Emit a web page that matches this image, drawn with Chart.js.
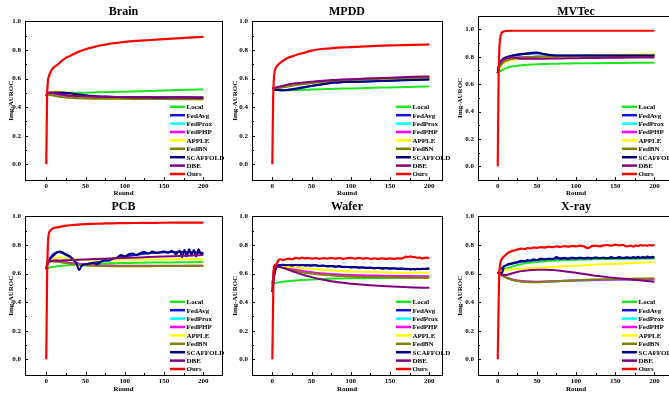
<!DOCTYPE html>
<html>
<head>
<meta charset="utf-8">
<style>
  body { margin: 0; background: #fff; }
  #wrap { position: relative; width: 669px; height: 393px; overflow: hidden; background: #fff; }
  .panel { position: absolute; overflow: hidden; }
</style>
</head>
<body>
<div id="wrap"></div>
<script src="https://cdn.jsdelivr.net/npm/chart.js"></script>
<script>
  const rounds = [0,1,2,3,5,8,10,15,20,25,30,40,50,60,70,80,90,100,120,140,160,180,200];
  const roundsDense = [0,2,5,8,10,13,17,20,25,30,35,38,42,45,50,55,60,65,70,75,80,85,90,95,100,105,110,115,120,125,130,135,140,145,150,155,160,165,170,173,176,179,182,185,188,191,194,197,200];

  const methods = ['Local','FedAvg','FedProx','FedPHP','APPLE','FedBN','SCAFFOLD','DBE','Ours'];
  const colors = ['#1ee61e','#1414dc','#00ffff','#ff00ff','#ffff00','#808000','#000080','#800080','#ff0000'];

  const xTicks = [0,50,100,150,200];
  const yTicks = [0,0.2,0.4,0.6,0.8,1.0];

  // Brain
  const brainLocal    = [0.48,0.485,0.49,0.49,0.492,0.495,0.496,0.497,0.498,0.499,0.5,0.5,0.501,0.503,0.505,0.506,0.507,0.508,0.511,0.515,0.518,0.522,0.525];
  const brainFedAvg   = [0.48,0.49,0.495,0.497,0.498,0.5,0.5,0.5,0.498,0.495,0.49,0.482,0.476,0.473,0.471,0.47,0.469,0.468,0.467,0.466,0.465,0.465,0.464];
  const brainFedProx  = [0.48,0.49,0.493,0.495,0.496,0.495,0.493,0.488,0.482,0.477,0.473,0.468,0.465,0.464,0.463,0.463,0.462,0.462,0.461,0.461,0.46,0.46,0.46];
  const brainFedPHP   = [0.48,0.49,0.494,0.496,0.497,0.496,0.494,0.489,0.483,0.478,0.474,0.469,0.466,0.465,0.464,0.463,0.463,0.463,0.462,0.462,0.462,0.461,0.461];
  const brainAPPLE    = [0.48,0.49,0.495,0.5,0.503,0.506,0.508,0.51,0.508,0.5,0.49,0.475,0.465,0.462,0.46,0.46,0.459,0.458,0.458,0.457,0.457,0.456,0.456];
  const brainFedBN    = [0.48,0.485,0.487,0.487,0.485,0.482,0.48,0.475,0.47,0.467,0.465,0.462,0.46,0.459,0.459,0.458,0.458,0.458,0.457,0.457,0.456,0.456,0.455];
  const brainSCAFFOLD = [0.48,0.49,0.495,0.498,0.5,0.502,0.502,0.503,0.502,0.5,0.497,0.49,0.483,0.478,0.475,0.473,0.471,0.47,0.469,0.468,0.467,0.467,0.466];
  const brainDBE      = [0.48,0.495,0.5,0.502,0.502,0.5,0.498,0.493,0.488,0.484,0.481,0.477,0.475,0.473,0.472,0.472,0.471,0.471,0.47,0.47,0.47,0.47,0.47];
  const brainOurs     = [0,0.45,0.58,0.61,0.64,0.67,0.68,0.7,0.725,0.745,0.757,0.785,0.805,0.82,0.833,0.843,0.85,0.857,0.865,0.872,0.879,0.886,0.892];

  // MPDD
  const mpddLocal    = [0.53,0.528,0.525,0.523,0.521,0.519,0.518,0.518,0.518,0.519,0.52,0.521,0.523,0.525,0.527,0.528,0.53,0.531,0.534,0.537,0.54,0.542,0.544];
  const mpddFedAvg   = [0.53,0.528,0.526,0.524,0.522,0.52,0.519,0.519,0.521,0.525,0.53,0.54,0.55,0.558,0.566,0.572,0.575,0.577,0.58,0.584,0.588,0.592,0.595];
  const mpddFedProx  = [0.53,0.53,0.531,0.532,0.533,0.535,0.537,0.543,0.55,0.556,0.56,0.567,0.572,0.577,0.581,0.585,0.588,0.59,0.594,0.598,0.601,0.603,0.605];
  const mpddFedPHP   = [0.53,0.53,0.532,0.533,0.535,0.538,0.54,0.546,0.552,0.558,0.562,0.569,0.575,0.58,0.584,0.588,0.591,0.594,0.598,0.602,0.605,0.608,0.61];
  const mpddAPPLE    = [0.53,0.53,0.531,0.532,0.533,0.535,0.537,0.542,0.548,0.553,0.557,0.564,0.57,0.576,0.581,0.585,0.589,0.592,0.597,0.6,0.603,0.605,0.607];
  const mpddFedBN    = [0.53,0.53,0.53,0.531,0.532,0.534,0.535,0.54,0.545,0.55,0.555,0.562,0.568,0.574,0.579,0.583,0.587,0.59,0.595,0.598,0.6,0.602,0.603];
  const mpddSCAFFOLD = [0.53,0.528,0.526,0.524,0.522,0.52,0.519,0.519,0.52,0.523,0.527,0.537,0.548,0.557,0.565,0.572,0.575,0.577,0.579,0.582,0.586,0.59,0.594];
  const mpddDBE      = [0.53,0.532,0.534,0.536,0.538,0.542,0.545,0.552,0.558,0.563,0.567,0.573,0.578,0.583,0.587,0.59,0.593,0.595,0.6,0.604,0.608,0.612,0.615];
  const mpddOurs     = [0,0.45,0.6,0.65,0.68,0.7,0.71,0.73,0.745,0.755,0.765,0.78,0.795,0.805,0.81,0.815,0.818,0.82,0.825,0.83,0.833,0.836,0.838];

  // MVTec
  const mvtecLocal    = [0.68,0.685,0.69,0.695,0.7,0.71,0.715,0.725,0.73,0.735,0.738,0.742,0.745,0.747,0.749,0.75,0.751,0.752,0.753,0.754,0.755,0.756,0.757];
  const mvtecFedAvg   = [0.68,0.72,0.74,0.755,0.77,0.785,0.79,0.8,0.808,0.813,0.817,0.822,0.826,0.818,0.81,0.808,0.808,0.808,0.809,0.81,0.81,0.81,0.81];
  const mvtecFedProx  = [0.68,0.71,0.73,0.745,0.76,0.775,0.78,0.79,0.795,0.797,0.798,0.8,0.802,0.803,0.804,0.805,0.806,0.807,0.808,0.809,0.81,0.81,0.811];
  const mvtecFedPHP   = [0.68,0.71,0.73,0.745,0.76,0.774,0.779,0.789,0.793,0.795,0.796,0.798,0.8,0.801,0.802,0.803,0.804,0.805,0.806,0.807,0.808,0.808,0.809];
  const mvtecAPPLE    = [0.68,0.7,0.715,0.725,0.74,0.755,0.762,0.772,0.778,0.782,0.785,0.79,0.794,0.797,0.8,0.802,0.804,0.806,0.809,0.812,0.815,0.817,0.819];
  const mvtecFedBN    = [0.68,0.705,0.72,0.733,0.748,0.763,0.77,0.78,0.786,0.79,0.793,0.797,0.8,0.802,0.803,0.804,0.805,0.806,0.807,0.808,0.809,0.81,0.81];
  const mvtecSCAFFOLD = [0.68,0.725,0.745,0.76,0.775,0.79,0.795,0.805,0.812,0.817,0.821,0.826,0.832,0.818,0.812,0.81,0.81,0.81,0.81,0.81,0.81,0.81,0.81];
  const mvtecDBE      = [0.68,0.72,0.74,0.755,0.768,0.782,0.788,0.795,0.797,0.79,0.786,0.785,0.785,0.786,0.787,0.788,0.789,0.79,0.791,0.792,0.793,0.794,0.795];
  const mvtecOurs     = [0,0.6,0.85,0.93,0.975,0.985,0.988,0.99,0.99,0.99,0.99,0.99,0.99,0.99,0.99,0.99,0.99,0.99,0.99,0.99,0.99,0.99,0.99];

  // PCB
  const pcbLocal    = [0.63,0.635,0.638,0.64,0.643,0.647,0.648,0.652,0.655,0.657,0.659,0.663,0.666,0.668,0.67,0.672,0.673,0.674,0.676,0.677,0.678,0.679,0.68];
  const pcbFedAvg   = [0.63,0.66,0.68,0.695,0.71,0.73,0.74,0.75,0.745,0.73,0.715,0.67,0.665,0.675,0.685,0.695,0.71,0.72,0.735,0.745,0.75,0.75,0.745];
  const pcbFedProx  = [0.63,0.66,0.68,0.69,0.695,0.695,0.693,0.688,0.683,0.678,0.673,0.666,0.66,0.657,0.655,0.654,0.653,0.653,0.652,0.652,0.652,0.653,0.653];
  const pcbFedPHP   = [0.63,0.66,0.68,0.69,0.696,0.697,0.695,0.69,0.685,0.68,0.675,0.668,0.662,0.659,0.657,0.656,0.655,0.655,0.654,0.654,0.654,0.655,0.655];
  const pcbAPPLE    = [0.64,0.66,0.675,0.685,0.695,0.703,0.706,0.712,0.712,0.708,0.703,0.698,0.695,0.695,0.695,0.695,0.696,0.696,0.697,0.698,0.699,0.7,0.7];
  const pcbFedBN    = [0.65,0.665,0.675,0.68,0.685,0.685,0.684,0.682,0.678,0.673,0.668,0.662,0.657,0.654,0.652,0.651,0.651,0.651,0.651,0.652,0.653,0.654,0.655];
  const pcbSCAFFOLD = [0.63,0.67,0.70,0.72,0.73,0.745,0.755,0.75,0.735,0.72,0.695,0.675,0.625,0.655,0.665,0.67,0.675,0.665,0.685,0.695,0.69,0.705,0.71,0.73,0.72,0.735,0.74,0.73,0.745,0.75,0.74,0.755,0.745,0.75,0.755,0.745,0.76,0.735,0.76,0.715,0.765,0.72,0.77,0.73,0.765,0.72,0.77,0.735,0.745];
  const pcbDBE      = [0.635,0.66,0.68,0.685,0.687,0.688,0.689,0.69,0.692,0.693,0.694,0.697,0.699,0.701,0.703,0.705,0.707,0.709,0.713,0.717,0.721,0.725,0.729];
  const pcbOurs     = [0,0.55,0.8,0.87,0.9,0.915,0.92,0.925,0.93,0.935,0.938,0.943,0.946,0.948,0.95,0.951,0.952,0.953,0.954,0.955,0.956,0.956,0.957];

  // Wafer
  const waferLocal    = [0.53,0.53,0.532,0.533,0.535,0.538,0.54,0.544,0.547,0.55,0.552,0.555,0.558,0.561,0.563,0.565,0.566,0.567,0.568,0.569,0.57,0.57,0.57];
  const waferFedAvg   = [0.47,0.55,0.62,0.64,0.65,0.658,0.66,0.66,0.66,0.66,0.66,0.66,0.658,0.655,0.652,0.65,0.648,0.645,0.641,0.638,0.635,0.632,0.633];
  const waferFedProx  = [0.5,0.56,0.62,0.635,0.645,0.65,0.648,0.642,0.636,0.63,0.625,0.615,0.607,0.601,0.597,0.593,0.59,0.588,0.585,0.583,0.582,0.581,0.58];
  const waferFedPHP   = [0.5,0.56,0.62,0.635,0.645,0.652,0.65,0.644,0.638,0.632,0.627,0.617,0.609,0.603,0.599,0.595,0.592,0.59,0.587,0.585,0.583,0.582,0.581];
  const waferAPPLE    = [0.5,0.56,0.61,0.625,0.635,0.645,0.648,0.648,0.646,0.644,0.642,0.637,0.633,0.628,0.624,0.62,0.617,0.615,0.612,0.609,0.606,0.605,0.605];
  const waferFedBN    = [0.5,0.56,0.62,0.635,0.645,0.648,0.645,0.638,0.63,0.623,0.617,0.607,0.6,0.594,0.589,0.585,0.582,0.579,0.576,0.574,0.572,0.571,0.57];
  const waferSCAFFOLD = [0.47,0.57,0.64,0.655,0.66,0.662,0.658,0.66,0.655,0.66,0.656,0.66,0.655,0.658,0.655,0.66,0.652,0.656,0.65,0.653,0.648,0.652,0.645,0.648,0.642,0.646,0.64,0.644,0.638,0.642,0.636,0.64,0.634,0.638,0.633,0.637,0.632,0.636,0.63,0.634,0.628,0.632,0.629,0.633,0.63,0.634,0.632,0.636,0.634];
  const waferDBE      = [0.53,0.57,0.62,0.635,0.645,0.647,0.645,0.637,0.628,0.618,0.608,0.59,0.575,0.562,0.551,0.542,0.535,0.529,0.52,0.513,0.507,0.503,0.5];
  const waferOurs     = [0,0.65,0.665,0.695,0.7,0.695,0.7,0.705,0.7,0.71,0.705,0.712,0.706,0.71,0.705,0.708,0.703,0.708,0.705,0.71,0.704,0.709,0.703,0.708,0.71,0.705,0.71,0.704,0.708,0.703,0.707,0.702,0.707,0.703,0.706,0.702,0.707,0.705,0.718,0.715,0.72,0.716,0.714,0.71,0.712,0.706,0.71,0.712,0.708];

  // X-ray
  const xrayLocal    = [0.61,0.612,0.615,0.618,0.622,0.628,0.632,0.642,0.652,0.66,0.666,0.675,0.681,0.686,0.69,0.693,0.695,0.697,0.7,0.702,0.703,0.704,0.705];
  const xrayFedAvg   = [0.61,0.6,0.6,0.61,0.635,0.65,0.655,0.665,0.672,0.678,0.683,0.69,0.695,0.7,0.703,0.705,0.706,0.707,0.708,0.709,0.71,0.71,0.71];
  const xrayFedProx  = [0.61,0.605,0.6,0.595,0.588,0.578,0.572,0.562,0.555,0.55,0.546,0.542,0.541,0.542,0.544,0.546,0.548,0.55,0.553,0.555,0.556,0.557,0.558];
  const xrayFedPHP   = [0.61,0.605,0.6,0.595,0.589,0.58,0.575,0.565,0.557,0.552,0.548,0.544,0.543,0.544,0.546,0.548,0.55,0.552,0.555,0.557,0.558,0.559,0.56];
  const xrayAPPLE    = [0.61,0.612,0.614,0.616,0.619,0.622,0.624,0.627,0.63,0.632,0.634,0.637,0.64,0.643,0.646,0.649,0.652,0.655,0.661,0.666,0.671,0.676,0.68];
  const xrayFedBN    = [0.61,0.605,0.6,0.595,0.588,0.578,0.573,0.562,0.553,0.547,0.543,0.54,0.54,0.542,0.545,0.548,0.551,0.554,0.558,0.561,0.563,0.565,0.567];
  const xraySCAFFOLD = [0.61,0.605,0.6,0.65,0.655,0.665,0.67,0.675,0.68,0.69,0.685,0.695,0.69,0.7,0.695,0.705,0.698,0.705,0.7,0.715,0.705,0.71,0.703,0.712,0.705,0.713,0.706,0.712,0.705,0.714,0.707,0.712,0.706,0.715,0.708,0.716,0.707,0.714,0.708,0.716,0.71,0.718,0.71,0.716,0.712,0.72,0.713,0.718,0.715];
  const xrayDBE      = [0.61,0.605,0.6,0.597,0.594,0.59,0.59,0.596,0.604,0.611,0.617,0.623,0.626,0.626,0.625,0.62,0.613,0.605,0.588,0.575,0.564,0.553,0.543];
  const xrayOurs     = [0,0.6,0.7,0.72,0.73,0.745,0.755,0.76,0.768,0.775,0.772,0.778,0.776,0.782,0.78,0.785,0.782,0.788,0.785,0.79,0.786,0.792,0.788,0.793,0.79,0.795,0.79,0.778,0.792,0.795,0.79,0.797,0.8,0.795,0.802,0.797,0.8,0.79,0.795,0.788,0.797,0.793,0.8,0.795,0.798,0.794,0.8,0.797,0.8];

  const panels = [
    { title: 'Brain', series: [brainLocal,brainFedAvg,brainFedProx,brainFedPHP,brainAPPLE,brainFedBN,brainSCAFFOLD,brainDBE,brainOurs], dense: [] },
    { title: 'MPDD',  series: [mpddLocal,mpddFedAvg,mpddFedProx,mpddFedPHP,mpddAPPLE,mpddFedBN,mpddSCAFFOLD,mpddDBE,mpddOurs], dense: [] },
    { title: 'MVTec', series: [mvtecLocal,mvtecFedAvg,mvtecFedProx,mvtecFedPHP,mvtecAPPLE,mvtecFedBN,mvtecSCAFFOLD,mvtecDBE,mvtecOurs], dense: [] },
    { title: 'PCB',   series: [pcbLocal,pcbFedAvg,pcbFedProx,pcbFedPHP,pcbAPPLE,pcbFedBN,pcbSCAFFOLD,pcbDBE,pcbOurs], dense: [6] },
    { title: 'Wafer', series: [waferLocal,waferFedAvg,waferFedProx,waferFedPHP,waferAPPLE,waferFedBN,waferSCAFFOLD,waferDBE,waferOurs], dense: [6,8] },
    { title: 'X-ray', series: [xrayLocal,xrayFedAvg,xrayFedProx,xrayFedPHP,xrayAPPLE,xrayFedBN,xraySCAFFOLD,xrayDBE,xrayOurs], dense: [6,8] }
  ];

  // page layout of the 2x3 grid
  const cols = [
    { left: 0,   boxW: 232, canvasW: 232, yW: 25, padR: 10, xMin: -27.1, xMax: 223.8, yTitlePad: 6.5, legDx: -52 },
    { left: 224, boxW: 230, canvasW: 230, yW: 28, padR: 12, xMin: -25.9, xMax: 216.2, yTitlePad: 6.8, legDx: -46 },
    { left: 444, boxW: 225, canvasW: 240, yW: 34, padR: 10, xMin: -25.2, xMax: 225,   yTitlePad: 11.8, legDx: -52 }
  ];
  const rows = [ { top: 0, h: 197 }, { top: 195, h: 198 } ];

  const serif = '"Liberation Serif", "Times New Roman", serif';
  const smallFont = { family: serif, size: 7, weight: 'bold' };

  const framePlugin = {
    id: 'frame',
    afterDraw(chart) {
      const { ctx, chartArea: a, scales: { x, y } } = chart;
      ctx.save();
      ctx.strokeStyle = '#000';
      ctx.lineWidth = 1;
      ctx.strokeRect(Math.round(a.left) + 0.5, Math.round(a.top) + 0.5, Math.round(a.right - a.left), Math.round(a.bottom - a.top));
      ctx.beginPath();
      [0,25,50,75,100,125,150,175,200].forEach(v => {
        const px = Math.round(x.getPixelForValue(v)) + 0.5;
        const len = v % 50 === 0 ? 3 : 2;
        ctx.moveTo(px, a.bottom);
        ctx.lineTo(px, a.bottom - len);
      });
      [0,0.1,0.2,0.3,0.4,0.5,0.6,0.7,0.8,0.9,1.0].forEach((v, i) => {
        const py = Math.round(y.getPixelForValue(v)) + 0.5;
        const len = i % 2 === 0 ? 3 : 2;
        ctx.moveTo(a.left, py);
        ctx.lineTo(a.left + len, py);
      });
      ctx.stroke();

      // legend inside the plot, bottom right
      const dx = chart.options.plugins.frame.legDx;
      const x0 = a.right + dx;
      const n = chart.data.datasets.length;
      ctx.font = 'bold 7px ' + serif;
      ctx.textBaseline = 'middle';
      ctx.textAlign = 'left';
      chart.data.datasets.forEach((ds, i) => {
        const yy = a.bottom - 6 - (n - 1 - i) * 8.4;
        ctx.strokeStyle = ds.borderColor;
        ctx.lineWidth = 2.5;
        ctx.beginPath();
        ctx.moveTo(x0, yy);
        ctx.lineTo(x0 + 15, yy);
        ctx.stroke();
        ctx.fillStyle = '#000';
        ctx.fillText(ds.label, x0 + 16.5, yy + 0.5);
      });
      ctx.restore();
    }
  };

  const pts = (xs, ys) => xs.map((x, i) => ({ x: x, y: ys[i] })).filter(p => p.y !== undefined);

  const wrap = document.getElementById('wrap');
  panels.forEach((p, k) => {
    const c = cols[k % 3];
    const r = rows[Math.floor(k / 3)];
    const isMvtec = p.title === 'MVTec';
    const yMin = isMvtec ? -0.1 : -0.11;
    const yMax = isMvtec ? 1.1 : 1.0;

    const div = document.createElement('div');
    div.className = 'panel';
    div.style.left = c.left + 'px';
    div.style.top = r.top + 'px';
    div.style.width = c.boxW + 'px';
    div.style.height = r.h + 'px';
    const canvas = document.createElement('canvas');
    canvas.width = c.canvasW;
    canvas.height = r.h;
    canvas.style.width = c.canvasW + 'px';
    canvas.style.height = r.h + 'px';
    div.appendChild(canvas);
    wrap.appendChild(div);

    const datasets = p.series.map((vals, i) => ({
      label: methods[i],
      data: pts(p.dense.includes(i) ? roundsDense : rounds, vals),
      borderColor: colors[i],
      backgroundColor: colors[i],
      borderWidth: i === 8 ? 2.2 : 2,
      pointRadius: 0,
      cubicInterpolationMode: 'monotone',
      order: methods.length - i
    }));

    new Chart(canvas.getContext('2d'), {
      type: 'line',
      data: { datasets: datasets },
      plugins: [framePlugin],
      options: {
        responsive: false,
        animation: false,
        devicePixelRatio: 1,
        layout: { padding: { left: 0, right: c.padR, top: 0, bottom: 0 } },
        plugins: {
          legend: { display: false },
          tooltip: { enabled: false },
          frame: { legDx: c.legDx },
          title: {
            display: true,
            text: p.title,
            fullSize: false,
            color: '#000',
            font: { family: serif, size: 12, weight: 'bold' },
            padding: isMvtec ? { top: 5, bottom: -3.7 } : { top: 5, bottom: 2 }
          }
        },
        scales: {
          x: {
            type: 'linear',
            min: c.xMin,
            max: c.xMax,
            afterBuildTicks: s => { s.ticks = xTicks.map(v => ({ value: v })); },
            afterFit: s => { s.height = r.h - 180; },
            grid: { display: false, drawTicks: false },
            border: { display: false },
            ticks: { color: '#000', font: smallFont, padding: 2, maxRotation: 0, autoSkip: false },
            title: { display: true, text: 'Round', color: '#000', font: smallFont, padding: 0 }
          },
          y: {
            min: yMin,
            max: yMax,
            afterBuildTicks: s => { s.ticks = yTicks.map(v => ({ value: v })); },
            afterFit: s => { s.width = c.yW; },
            grid: { display: false, drawTicks: false },
            border: { display: false },
            ticks: { color: '#000', font: smallFont, padding: 4, callback: v => v.toFixed(1) },
            title: { display: true, text: 'Img-AUROC', color: '#000', font: smallFont, padding: { top: c.yTitlePad, bottom: 0 } }
          }
        }
      }
    });
  });
</script>
</body>
</html>
